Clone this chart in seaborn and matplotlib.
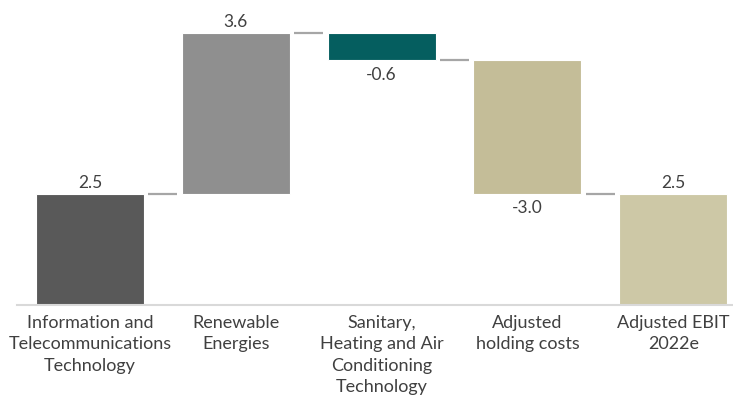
import matplotlib
matplotlib.use("Agg")
import matplotlib.pyplot as plt
import seaborn as sns

# Segment contributions to adjusted EBIT (EUR m)
categories = [
    "Information and\nTelecommunications\nTechnology",
    "Renewable\nEnergies",
    "Sanitary,\nHeating and Air\nConditioning\nTechnology",
    "Adjusted\nholding costs",
    "Adjusted EBIT\n2022e",
]
changes = [2.5, 3.6, -0.6, -3.0]
total = 2.5
bar_colors = ["#595959", "#8f8f8f", "#055e5f", "#c4bd98", "#cdc8a6"]

sns.set_theme(style="white")
plt.rcParams["font.family"] = ["Lato", "DejaVu Sans"]

# Waterfall geometry: running totals give each floating bar's base
values = changes + [total]
bottoms, running = [], 0.0
for c in changes:
    bottoms.append(running if c >= 0 else running + c)
    running += c
bottoms.append(0.0)
heights = [abs(v) for v in values]
levels = [sum(changes[: i + 1]) for i in range(len(changes))]

fig = plt.figure(figsize=(7.33, 4.01), dpi=100)
ax = fig.add_axes([0.0232, 0.2394, 0.9768, 0.7606])

sns.barplot(x=categories, y=heights, hue=categories, palette=bar_colors,
            legend=False, width=0.74, edgecolor="white", linewidth=0.8,
            saturation=1, ax=ax)
for patch, b in zip(ax.patches, bottoms):
    patch.set_y(b)

# Connector lines between consecutive bars
half = 0.37
for i, lvl in enumerate(levels):
    ax.plot([i + half + 0.03, i + 1 - half - 0.03], [lvl, lvl],
            color="#a6a6a6", lw=1.6, solid_capstyle="butt")

# Value labels: above positive bars, below negative ones
for i, (v, b, h) in enumerate(zip(values, bottoms, heights)):
    if v >= 0:
        ax.annotate(f"{v:.1f}", (i, b + h), xytext=(0, 2), textcoords="offset points",
                    ha="center", va="bottom", fontsize=12.5, color="#404040")
    else:
        ax.annotate(f"{v:.1f}", (i, b), xytext=(0, -5), textcoords="offset points",
                    ha="center", va="top", fontsize=12.5, color="#404040")

ax.set_xlim(-0.5, 4.41)
ax.set_ylim(0, 6.84)
ax.set_yticks([])
ax.set_xlabel("")
ax.set_ylabel("")
for side in ["top", "right", "left"]:
    ax.spines[side].set_visible(False)
ax.spines["bottom"].set_color("#d9d9d9")
ax.spines["bottom"].set_linewidth(1.5)
ax.tick_params(axis="x", length=0, pad=7, labelsize=13, labelcolor="#404040")
for lab in ax.get_xticklabels():
    lab.set_linespacing(1.42)

fig.savefig("out.png", dpi=100, facecolor="white")
